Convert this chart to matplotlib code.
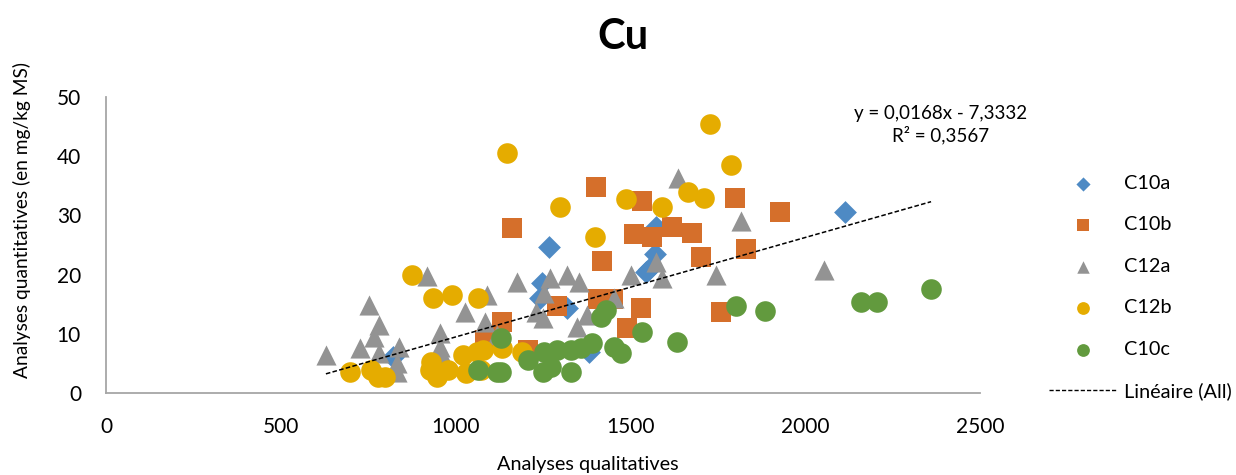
import matplotlib
matplotlib.use('Agg')
import matplotlib.pyplot as plt
from matplotlib.lines import Line2D
import numpy as np

plt.rcParams['font.family'] = ['Lato', 'DejaVu Sans']

# data (x = analyses qualitatives, y = mg/kg MS)
c10a_x = [820, 1240, 1246, 1266, 1320, 1383, 1545, 1554, 1569, 1574, 2114]
c10a_y = [6.0, 16.1, 18.6, 24.6, 14.4, 7.0, 20.5, 21.0, 23.4, 28.1, 30.5]

c10b_x = [1083, 1134, 1160, 1206, 1289, 1403, 1406, 1420, 1449, 1489, 1509,
          1531, 1534, 1563, 1620, 1677, 1703, 1760, 1800, 1831, 1929]
c10b_y = [9.0, 12.0, 27.8, 7.3, 14.7, 34.8, 15.8, 22.3, 15.8, 11.0, 26.9,
          14.4, 32.4, 26.4, 28.1, 27.1, 22.9, 13.6, 32.9, 24.4, 30.5]

c12a_x = [629, 726, 751, 766, 780, 780, 831, 831, 837, 917, 954, 954, 963,
          1026, 1083, 1089, 1117, 1177, 1231, 1249, 1254, 1269, 1320, 1346,
          1354, 1377, 1454, 1503, 1574, 1591, 1637, 1746, 1817, 2054]
c12a_y = [6.4, 7.6, 14.9, 9.5, 11.5, 6.8, 5.1, 3.6, 7.8, 19.7, 10.2, 7.8, 6.1,
          13.6, 12.0, 16.6, 9.8, 18.8, 13.6, 12.7, 16.9, 19.5, 20.0, 11.2,
          18.8, 13.2, 16.1, 20.0, 22.2, 19.5, 36.3, 20.0, 29.0, 20.8]

c12b_x = [697, 757, 777, 797, 874, 926, 931, 934, 946, 977, 991, 1020, 1031,
          1060, 1063, 1074, 1077, 1134, 1146, 1191, 1300, 1400, 1486, 1589,
          1666, 1711, 1729, 1789]
c12b_y = [3.6, 3.9, 2.7, 2.7, 20.0, 3.9, 5.3, 16.1, 2.7, 3.9, 16.6, 6.4, 3.4,
          6.9, 16.1, 3.9, 7.3, 7.6, 40.5, 6.9, 31.5, 26.4, 32.7, 31.5,
          33.9, 33.0, 45.4, 38.5]

c10c_x = [1063, 1117, 1131, 1131, 1206, 1249, 1254, 1274, 1289, 1331, 1331,
          1360, 1391, 1417, 1431, 1454, 1474, 1534, 1634, 1803, 1886, 2160,
          2206, 2360]
c10c_y = [3.9, 3.6, 9.3, 3.6, 5.6, 3.6, 6.9, 4.4, 7.3, 3.6, 7.3,
          7.6, 8.5, 12.9, 14.0, 7.8, 6.8, 10.3, 8.6, 14.7, 13.9, 15.3,
          15.3, 17.5]

# trend line as printed on the chart
slope = 0.0168
intercept = -7.3332

fig = plt.figure(figsize=(12.36, 4.75), dpi=100)
ax = fig.add_axes([106/1236, 1-393/475, (980-106)/1236, (393-97)/475])

ax.scatter(c10a_x, c10a_y, marker='D', s=135, color='#4E8AC4', label='C10a', zorder=3, linewidths=0)
ax.scatter(c10b_x, c10b_y, marker='s', s=200, color='#D56F2B', label='C10b', zorder=3, linewidths=0)
ax.scatter(c12a_x, c12a_y, marker='^', s=210, color='#939393', label='C12a', zorder=3, linewidths=0)
ax.scatter(c12b_x, c12b_y, marker='o', s=220, color='#E5AC00', label='C12b', zorder=3, linewidths=0)
ax.scatter(c10c_x, c10c_y, marker='o', s=220, color='#629A3E', label='C10c', zorder=3, linewidths=0)

all_x = np.concatenate([c10a_x, c10b_x, c12a_x, c12b_x, c10c_x])
xs = np.array([all_x.min(), all_x.max()])
ax.plot(xs, slope*xs + intercept, ls=(0, (3, 1.5)), color='black', lw=1.1, zorder=4)

ax.set_xlim(0, 2500)
ax.set_ylim(0, 50)
ax.set_xticks(np.arange(0, 2501, 500))
ax.set_yticks(np.arange(0, 51, 10))
ax.tick_params(length=0, labelsize=15)
ax.tick_params(axis='x', pad=17)
ax.tick_params(axis='y', pad=18)
for s in ['top', 'right']:
    ax.spines[s].set_visible(False)
for s in ['left', 'bottom']:
    ax.spines[s].set_color('#A6A6A6')
    ax.spines[s].set_linewidth(1.3)

fig.text(623/1236, 1-37/475, 'Cu', ha='center', va='center', fontsize=30, fontweight='bold')
fig.text(588/1236, 1-473/475, 'Analyses qualitatives', ha='center', va='bottom', fontsize=14.3)
fig.text(22/1236, 1-220/475, 'Analyses quantitatives (en mg/kg MS)', ha='center', va='center',
         rotation=90, fontsize=13.8)
fig.text(941/1236, 1-125/475, 'y = 0,0168x - 7,3332\nR² = 0,3567', ha='center', va='center',
         fontsize=13.5, linespacing=1.25)

handles, labels = ax.get_legend_handles_labels()
handles.append(Line2D([0], [0], ls=(0, (3, 1.5)), color='black', lw=1))
labels.append('Linéaire (All)')
fig.legend(handles, labels, loc='upper left', bbox_to_anchor=(1049/1236, 1-175/475),
           frameon=False, fontsize=14.3, markerscale=0.62, handlelength=3.4,
           handletextpad=0.4, labelspacing=1.23, borderpad=0, borderaxespad=0)

fig.savefig('out.png', dpi=100)
